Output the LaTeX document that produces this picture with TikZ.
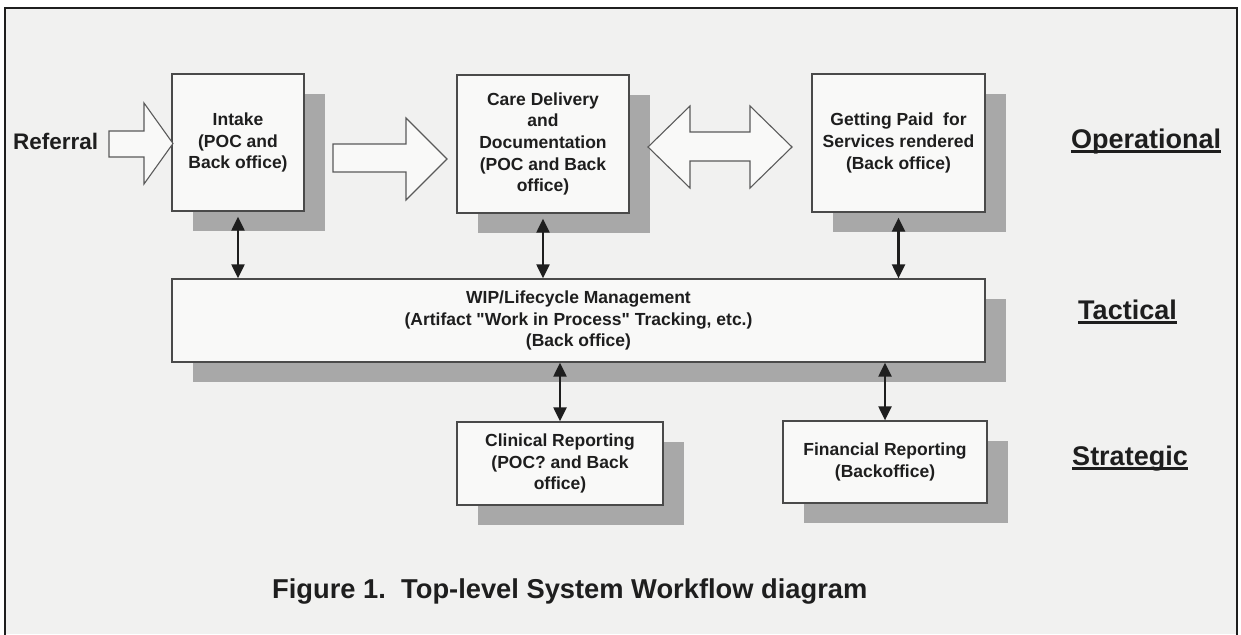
\documentclass[tikz,border=0pt]{standalone}
\usepackage{fontspec}
\setmainfont{Liberation Sans}[Ligatures=TeXOff]
\usetikzlibrary{shadows,arrows.meta}
\definecolor{paper}{HTML}{F1F1F0}
\definecolor{boxfill}{HTML}{F9F9F8}
\definecolor{ink}{HTML}{1E1E1E}
\definecolor{shade}{HTML}{A8A8A8}
\definecolor{edge}{HTML}{4A4A4A}
\definecolor{arrowedge}{HTML}{5A5A5A}
\newcommand\boxfont{\fontsize{17.5}{21.7}\selectfont\bfseries}
\begin{document}
\begin{tikzpicture}[x=1pt,y=-1pt,
  box/.style={draw=edge, line width=1.3pt, fill=boxfill, align=center,
    font=\boxfont, text=ink, inner sep=2pt,
    drop shadow={shadow xshift=21pt, shadow yshift=-20pt, fill=shade, opacity=1}},
  blockarrow/.style={draw=arrowedge, line width=1.1pt, fill=boxfill, line join=miter},
  link/.style={{Triangle[width=13pt,length=14pt]}-{Triangle[width=13pt,length=14pt]},
    line width=2.2pt, draw=ink},
  lvl/.style={font=\fontsize{27}{30}\selectfont\bfseries, text=ink, inner sep=0pt, anchor=base},
  ul/.style={line width=2.4pt, draw=ink}]
\useasboundingbox (0,0) rectangle (1241,634);
% page and frame
\fill[white] (0,0) rectangle (1241,634);
\fill[paper] (5,8) rectangle (1237,634);
\draw[line width=2.5pt, draw=ink] (5,640) -- (5,8) -- (1237,8) -- (1237,640);

% operational row
\node[box, minimum width=132pt, minimum height=137pt] (intake) at (238,142.5)
  {Intake\\(POC and\\Back office)};
\node[box, minimum width=172pt, minimum height=138pt] (care) at (543,144)
  {Care Delivery\\and\\Documentation\\(POC and Back\\office)};
\node[box, minimum width=173pt, minimum height=138pt] (paid) at (898.5,143)
  {Getting Paid\ \ for\\Services rendered\\(Back office)};

% tactical row
\node[box, minimum width=813pt, minimum height=83pt] (wip) at (578.5,320.5)
  {WIP/Lifecycle Management\\(Artifact "Work in Process" Tracking, etc.)\\(Back office)};

% strategic row
\node[box, minimum width=206pt, minimum height=83pt] (clin) at (560,463.5)
  {Clinical Reporting\\(POC? and Back\\office)};
\node[box, minimum width=204pt, minimum height=82pt] (fin) at (885,462)
  {Financial Reporting\\(Backoffice)};

% referral label and block arrows
\node[anchor=base west, inner sep=0pt, font=\fontsize{22.5}{26}\selectfont\bfseries, text=ink]
  (referral) at (13,149) {Referral};
\draw[blockarrow] (109,131) -- (144,131) -- (144,103) -- (173,143.5) -- (144,184)
  -- (144,157) -- (109,157) -- cycle;
\draw[blockarrow] (333,144) -- (406,144) -- (406,118) -- (447,159) -- (406,200)
  -- (406,172) -- (333,172) -- cycle;
\draw[blockarrow] (648,147) -- (690,106) -- (690,132) -- (750,132) -- (750,106)
  -- (792,147) -- (750,188) -- (750,161) -- (690,161) -- (690,188) -- cycle;

% two-way links between levels
\draw[link] ([yshift=-5pt]intake.south) -- (intake.south |- wip.north);
\draw[link] ([yshift=-5pt]care.south) -- (care.south |- wip.north);
\draw[link] ([yshift=-5pt]paid.south) -- (paid.south |- wip.north);
\draw[link] (clin.north |- wip.south) -- (clin.north);
\draw[link] (fin.north |- wip.south) -- (fin.north);

% level labels
\node[lvl] (op) at (1146,148) {Operational};
\node[lvl] (tac) at (1127.5,319) {Tactical};
\node[lvl] (str) at (1130,465) {Strategic};
\foreach \n in {op,tac,str}
  \draw[ul] ([yshift=-3.5pt]\n.base west) -- ([yshift=-3.5pt]\n.base east);

% caption
\node[anchor=base west, inner sep=0pt, font=\fontsize{27.3}{30}\selectfont\bfseries, text=ink]
  (caption) at (272,598) {Figure 1.\ \ Top-level System Workflow diagram};
\end{tikzpicture}
\end{document}
